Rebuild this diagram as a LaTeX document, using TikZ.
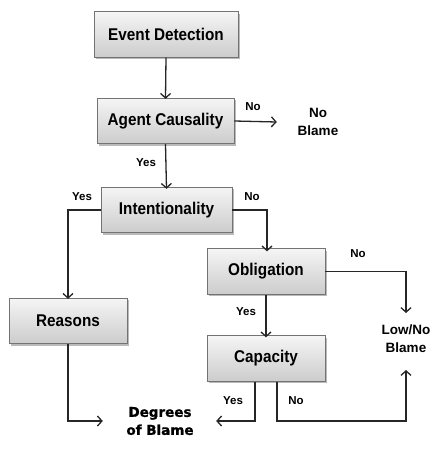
\documentclass[tikz,border=0pt]{standalone}
\usepackage{fontspec}
\setmainfont{Liberation Sans}
\newfontfamily\boxfont[FakeStretch=0.9]{Liberation Sans}
\newfontfamily\bigfont[FakeBold=1.2]{DejaVu Sans}
\usetikzlibrary{arrows.meta,shadows}
\begin{document}
\begin{tikzpicture}[x=1pt,y=-1pt,
  box/.style={draw=black!55, line width=0.8pt, top color=black!4, bottom color=black!20,
    drop shadow={shadow xshift=1.8pt, shadow yshift=-1.8pt, fill=black!45, opacity=0.6},
    font=\boxfont\bfseries\fontsize{17}{20}\selectfont, inner sep=0pt, minimum height=45.5pt},
  lbl/.style={font=\bfseries\fontsize{11.5}{13}\selectfont, inner sep=0pt},
  res/.style={font=\bfseries\fontsize{13.5}{17.5}\selectfont, align=center, inner sep=0pt},
  conn/.style={draw=black!85, line width=1.3pt, -{Straight Barb[length=4.5pt,width=10pt]}}]
\useasboundingbox (0,0) rectangle (434,453);
\node[box, minimum width=144pt] (ed) at (166,34.5) {Event Detection};
\node[box, minimum width=137pt] (ac) at (165.5,121) {Agent Causality};
\node[box, minimum width=131pt] (int) at (166.5,210) {Intentionality};
\node[box, minimum width=118pt] (rea) at (68,321) {Reasons};
\node[box, minimum width=118pt] (obl) at (266,271.5) {Obligation};
\node[box, minimum width=118pt] (cap) at (266,358.5) {Capacity};
\node[res, minimum width=82pt] (nb) at (318,122) {No\\Blame};
\node[res] (low) at (406,338.5) {Low/No\\Blame};
\node[res, font=\bigfont\bfseries\fontsize{13.5}{18}\selectfont, minimum width=112pt] (deg) at (160,421) {Degrees\\of Blame};
\coordinate (lowtop) at (406,313);
\coordinate (lowbot) at (406,370);
\draw[conn] (ed.south) -- ([yshift=-1pt]ac.north);
\draw[conn] (ac.east) -- (nb.west);
\draw[conn] (ac.south) -- ([yshift=-2pt]int.north);
\draw[conn] (int.west) -| ([yshift=-1pt]rea.north);
\draw[conn] (int.east) -| ([xshift=1pt,yshift=-3pt]obl.north);
\draw[conn] (obl.east) -| (lowtop);
\draw[conn] (obl.south) -- ([yshift=-2pt]cap.north);
\draw[conn] (rea.south) |- ([xshift=-1pt]deg.west);
\draw[conn] ([xshift=-11pt]cap.south) |- (deg.east);
\draw[conn] ([xshift=11pt]cap.south) |- (lowbot |- deg.center) -- (lowbot);
\node[lbl] (l1) at (253,107) {No};
\node[lbl] (l2) at (146,163) {Yes};
\node[lbl] (l3) at (82,197) {Yes};
\node[lbl] (l4) at (252,197) {No};
\node[lbl] (l5) at (358,254) {No};
\node[lbl] (l6) at (246,312) {Yes};
\node[lbl] (l7) at (233,401) {Yes};
\node[lbl] (l8) at (296,401) {No};
\end{tikzpicture}
\end{document}
